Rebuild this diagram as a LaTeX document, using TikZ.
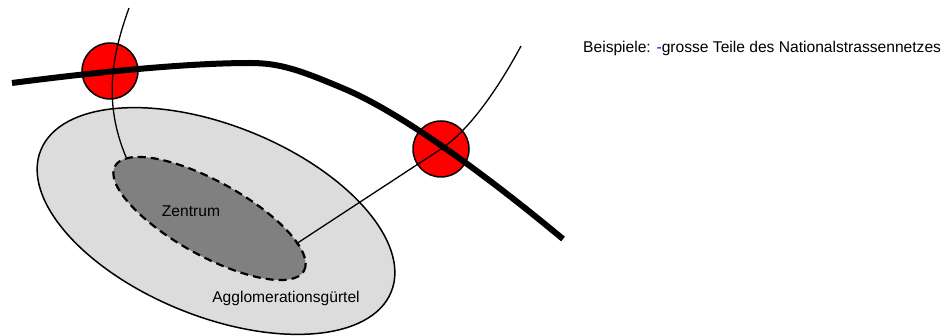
\documentclass[tikz,border=0pt]{standalone}
\usepackage{fontspec}
\setmainfont{Liberation Sans}
\usetikzlibrary{shapes.geometric}
\definecolor{aggl}{HTML}{DCDCDC}
\definecolor{zent}{HTML}{808080}
\begin{document}
\begin{tikzpicture}[x=1pt,y=-1pt,
  fnt/.style={font=\fontsize{15.6}{18}\selectfont, inner sep=0pt},
  ringzone/.style={ellipse, draw=black, line width=1.5pt, fill=aggl, inner sep=0pt},
  corezone/.style={ellipse, draw=black, line width=2.2pt, dash pattern=on 8pt off 5pt, fill=zent, inner sep=0pt},
  knot/.style={circle, draw=black, line width=1.5pt, fill=red, minimum size=56pt, inner sep=0pt},
  road/.style={line width=6pt},
  link/.style={line width=1.3pt}]
\useasboundingbox (0,0) rectangle (952,336);

\node[ringzone, minimum width=378pt, minimum height=191pt, rotate=-22] (agg) at (216,221) {};
\node[corezone, minimum width=216pt, minimum height=74pt, rotate=-29] (zen) at (209.5,218.5) {};

\node[knot] (k1) at (110,71) {};
\node[knot] (k2) at (441,149) {};

\coordinate (r0) at (12,83);
\coordinate (r1) at (250,63);
\coordinate (r2) at (347,90);
\coordinate (r3) at (563,239);
\draw[road] (r0) .. controls (120,69) and (200,63) .. (r1)
  .. controls (280,63) and (300,70) .. (r2)
  .. controls (400,113) and (480,170) .. (r3);

\coordinate (t1) at (129,8);
\coordinate (z1) at (126,157);
\draw[link] (t1) .. controls (112,55) and (103,102) .. (z1);

\coordinate (z2) at (296,244);
\coordinate (t2) at (521,46);
\draw[link] (z2) -- (k2.center) .. controls (471,129) and (500,85) .. (t2);

\node[fnt] (lz) at (191,211) {Zentrum};
\node[fnt] (la) at (286,298) {Agglomerationsgürtel};
\node[fnt, anchor=west] (lb) at (583,48) {Beispiele: \textcolor{blue}{-}grosse Teile des Nationalstrassennetzes};
\end{tikzpicture}
\end{document}
